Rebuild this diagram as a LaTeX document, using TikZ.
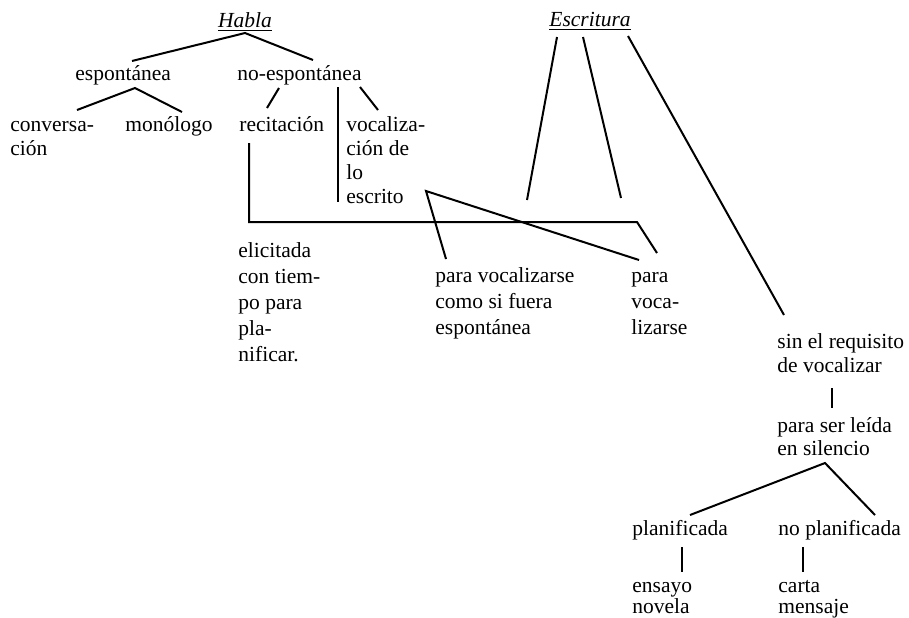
\documentclass[tikz,border=0pt]{standalone}
\usepackage{fontspec}
\setmainfont{Liberation Serif}
\usetikzlibrary{calc}
\tikzset{
  lbl/.style={inner sep=0pt, anchor=base west, align=left, font=\fontsize{10.75}{#1}\selectfont},
  lbl/.default=12,
  head/.style={inner sep=0pt, anchor=base, font=\fontsize{10.75}{12}\selectfont\itshape},
  link/.style={line width=1pt},
}
\begin{document}
\begin{tikzpicture}[x=0.5pt,y=-0.5pt]
  \useasboundingbox (0,0) rectangle (909,617);
  % multi-line nodes sit on their last line
  \node[head] (habla) at (245,27) {\underline{Habla}};
  \node[head] (escr) at (590,26) {\underline{Escritura}};
  \node[lbl] (esp) at (75,80) {espontánea};
  \node[lbl] (noesp) at (237,80) {no-espontánea};
  \node[lbl] (conv) at (10,155) {conversa-\\ción};
  \node[lbl] (mono) at (125,131) {monólogo};
  \node[lbl] (reci) at (239,131) {recitación};
  \node[lbl] (voc) at (346,203) {vocaliza-\\ción de\\lo\\escrito};
  \node[lbl=13] (elic) at (238,361) {elicitada\\con tiem-\\po para\\pla-\\nificar.};
  \node[lbl=13] (pvc) at (435,334) {para vocalizarse\\como si fuera\\espontánea};
  \node[lbl=13] (pv) at (631,334) {para\\voca-\\lizarse};
  \node[lbl] (sin) at (777,372) {sin el requisito\\de vocalizar};
  \node[lbl=11.5] (leida) at (777,455) {para ser leída\\en silencio};
  \node[lbl] (plan) at (632,535) {planificada};
  \node[lbl] (noplan) at (778,535) {no planificada};
  \node[lbl=10.5] (ens) at (632,613) {ensayo\\novela};
  \node[lbl=10.5] (carta) at (778,613) {carta\\mensaje};
  \coordinate (escv) at ($(voc.base west)+(80,-12)$);
  \coordinate (e1) at ($(pvc.base west)+(92,-134)$);
  \coordinate (e2) at ($(pv.base west)+(-10,-136)$);
  % Habla
  \draw[link] ($(esp.base west)+(57,-19)$) -- ($(habla.base)+(0,6)$) -- ($(noesp.base west)+(76,-20)$);
  \draw[link] ($(conv.base west)+(67,-45)$) -- ($(esp.base west)+(60,8)$) -- ($(mono.base west)+(57,-19)$);
  \draw[link] ($(noesp.base west)+(42,8)$) -- ($(reci.base west)+(28,-23)$);
  \draw[link] ($(noesp.base west)+(123,7)$) -- ($(voc.base west)+(32,-93)$);
  \draw[link] ($(voc.base west)+(-8,-116)$) -- ($(voc.base west)+(-8,-1)$);
  \draw[link] ($(reci.base west)+(10,12)$) |- ($(pv.base west)+(6,-112)$) -- ($(pv.base west)+(26,-81)$);
  \draw[link] ($(pvc.base west)+(11,-75)$) -- (escv) -- ($(pv.base west)+(8,-74)$);
  % Escritura
  \draw[link] ($(escr.base)+(-33,11)$) -- (e1);
  \draw[link] ($(escr.base)+(-7,11)$) -- (e2);
  \draw[link] ($(escr.base)+(38,10)$) -- ($(sin.base west)+(7,-57)$);
  \draw[link] ($(sin.base west)+(55,16)$) -- ($(leida.base west)+(55,-47)$);
  \draw[link] ($(plan.base west)+(58,-20)$) -- ($(leida.base west)+(48,8)$) -- ($(noplan.base west)+(97,-20)$);
  \draw[link] ($(plan.base west)+(50,12)$) -- ($(ens.base west)+(50,-41)$);
  \draw[link] ($(noplan.base west)+(25,12)$) -- ($(carta.base west)+(25,-41)$);
\end{tikzpicture}
\end{document}
